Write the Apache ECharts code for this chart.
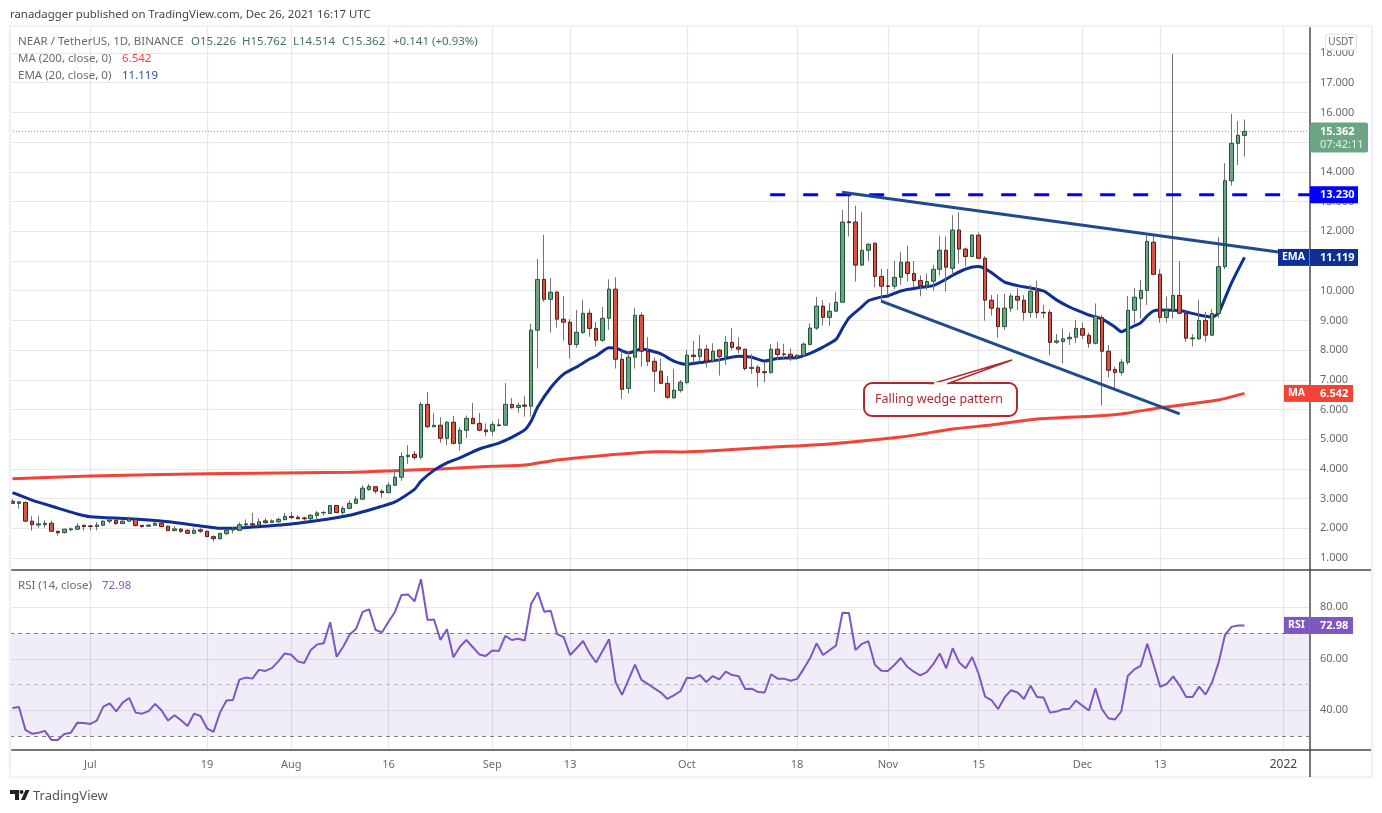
<!DOCTYPE html>
<html>
<head>
<meta charset="utf-8">
<title>NEAR / TetherUS</title>
<script src="https://cdn.jsdelivr.net/npm/echarts@6/dist/echarts.min.js"></script>
<style>
  html, body { margin: 0; padding: 0; background: #fff; }
  #chart { width: 1382px; height: 813px; }
</style>
</head>
<body>
<div id="chart"></div>
<script>
// x axis is days counted from 2021-07-01
const FIRST_DAY = -12
const DAY_MIN = -12.38
const DAY_MAX = 188.1

const tickDays = [0, 18, 31, 46, 62, 74, 92, 109, 123, 137, 153, 165, 184]
const tickLabels = ["Jul", "19", "Aug", "16", "Sep", "13", "Oct", "18", "Nov", "15", "Dec", "13", "2022"]
const priceTicks = [1, 2, 3, 4, 5, 6, 7, 8, 9, 10, 11, 12, 13, 14, 15, 16, 17, 18]
const rsiTicks = [40, 60, 80]

// daily rows: open, close, low, high
const candles = [
  [2.91, 2.84, 2.82, 2.98], [2.84, 2.89, 2.66, 2.92], [2.87, 2.24, 2.21, 2.90], [2.24, 2.12, 1.92, 2.41],
  [2.11, 2.15, 2.02, 2.41], [2.12, 2.17, 2.02, 2.27], [2.17, 1.90, 1.89, 2.25], [1.90, 1.85, 1.75, 1.92],
  [1.86, 1.97, 1.82, 1.98], [1.95, 1.98, 1.91, 2.03], [1.97, 2.07, 1.94, 2.17], [2.10, 2.06, 1.92, 2.12],
  [2.08, 2.06, 1.92, 2.11], [2.06, 2.11, 1.93, 2.21], [2.10, 2.24, 2.09, 2.27], [2.24, 2.28, 2.17, 2.35],
  [2.27, 2.16, 2.11, 2.29], [2.16, 2.24, 2.15, 2.27], [2.24, 2.31, 2.22, 2.40], [2.30, 2.09, 2.07, 2.32],
  [2.10, 2.06, 2.02, 2.11], [2.07, 2.11, 2.04, 2.13], [2.10, 2.17, 2.08, 2.22], [2.17, 2.06, 2.03, 2.19],
  [2.07, 1.92, 1.91, 2.09], [1.92, 1.98, 1.90, 2.08], [1.97, 1.90, 1.85, 2.01], [1.93, 1.83, 1.82, 1.97],
  [1.83, 1.93, 1.82, 2.03], [1.95, 1.90, 1.85, 2.00], [1.90, 1.72, 1.71, 1.92], [1.72, 1.65, 1.55, 1.76],
  [1.65, 1.83, 1.62, 1.85], [1.82, 1.93, 1.77, 1.98], [1.94, 1.98, 1.83, 2.04], [1.93, 2.12, 1.92, 2.20],
  [2.11, 2.15, 2.06, 2.30], [2.15, 2.11, 2.09, 2.52], [2.11, 2.22, 2.08, 2.34], [2.25, 2.19, 2.16, 2.34],
  [2.20, 2.25, 2.18, 2.30], [2.22, 2.30, 2.18, 2.37], [2.29, 2.40, 2.28, 2.52], [2.40, 2.36, 2.32, 2.55],
  [2.37, 2.32, 2.31, 2.44], [2.35, 2.32, 2.22, 2.39], [2.32, 2.44, 2.28, 2.47], [2.43, 2.52, 2.32, 2.58],
  [2.52, 2.53, 2.43, 2.59], [2.50, 2.77, 2.49, 2.77], [2.77, 2.53, 2.52, 2.77], [2.53, 2.67, 2.44, 2.75],
  [2.67, 2.84, 2.65, 2.95], [2.84, 2.98, 2.82, 3.07], [2.98, 3.35, 2.95, 3.45], [3.30, 3.41, 3.27, 3.49],
  [3.40, 3.25, 3.16, 3.42], [3.25, 3.20, 3.03, 3.31], [3.20, 3.45, 3.19, 3.55], [3.45, 3.72, 3.42, 3.99],
  [3.72, 4.42, 3.60, 4.56], [4.41, 4.46, 4.17, 4.80], [4.49, 4.38, 4.31, 4.60], [4.39, 6.17, 4.32, 6.25],
  [6.17, 5.42, 5.37, 6.59], [5.42, 5.47, 5.40, 5.87], [5.47, 5.03, 4.88, 5.74], [5.03, 5.57, 4.80, 5.61],
  [5.57, 4.86, 4.82, 5.78], [4.86, 5.30, 4.61, 5.40], [5.30, 5.70, 5.04, 5.80], [5.70, 5.52, 5.51, 6.22],
  [5.53, 5.30, 5.27, 5.88], [5.31, 5.25, 5.11, 5.53], [5.27, 5.50, 5.11, 5.60], [5.48, 5.46, 5.43, 5.68],
  [5.47, 6.17, 5.46, 6.89], [6.17, 6.06, 6.03, 6.39], [6.07, 6.14, 5.89, 6.24], [6.15, 6.11, 5.76, 6.45],
  [6.11, 8.67, 5.76, 8.88], [8.67, 10.38, 7.38, 11.07], [10.38, 9.71, 9.63, 11.88], [9.71, 9.95, 8.59, 10.43],
  [9.95, 9.04, 8.76, 9.99], [9.04, 8.94, 8.32, 9.82], [8.94, 8.19, 7.71, 9.04], [8.19, 8.60, 8.08, 9.35],
  [8.59, 9.24, 8.54, 9.69], [9.24, 8.73, 8.45, 9.37], [8.73, 8.33, 8.12, 8.95], [8.33, 9.07, 8.28, 9.45],
  [9.07, 10.05, 8.68, 10.38], [10.05, 7.69, 7.38, 10.45], [7.69, 6.68, 6.36, 7.98], [6.71, 7.76, 6.54, 7.97],
  [7.76, 9.17, 7.38, 9.42], [9.17, 7.96, 7.44, 9.27], [7.96, 7.62, 7.46, 8.44], [7.62, 7.29, 6.60, 7.75],
  [7.29, 6.88, 6.86, 7.72], [6.88, 6.41, 6.36, 7.13], [6.39, 6.65, 6.36, 7.37], [6.64, 6.92, 6.57, 6.99],
  [6.91, 7.83, 6.85, 8.01], [7.83, 7.78, 7.58, 8.31], [7.78, 8.03, 7.61, 8.51], [8.03, 7.63, 7.41, 8.18],
  [7.63, 7.96, 7.58, 8.23], [8.00, 7.78, 7.14, 8.03], [7.78, 8.26, 7.50, 8.48], [8.26, 8.09, 8.01, 8.74],
  [8.10, 8.03, 7.89, 8.43], [8.03, 7.38, 7.31, 8.03], [7.38, 7.42, 7.20, 7.87], [7.42, 7.25, 6.77, 7.50],
  [7.27, 7.24, 6.91, 7.61], [7.24, 8.03, 7.21, 8.21], [8.03, 7.85, 7.66, 8.28], [7.87, 7.85, 7.67, 8.21],
  [7.86, 7.78, 7.63, 8.06], [7.77, 7.83, 7.66, 7.84], [7.82, 8.20, 7.78, 8.26], [8.19, 8.74, 8.16, 8.90],
  [8.74, 9.48, 8.68, 9.79], [9.48, 9.10, 8.83, 9.68], [9.10, 9.31, 8.81, 9.58], [9.31, 9.61, 9.30, 9.95],
  [9.61, 12.31, 9.59, 12.72], [12.32, 12.29, 11.82, 13.28], [12.31, 10.86, 10.31, 12.86], [10.86, 11.36, 10.83, 12.65],
  [11.36, 11.56, 11.00, 11.60], [11.60, 10.48, 10.11, 11.60], [10.48, 10.15, 9.66, 10.73], [10.16, 10.14, 9.84, 10.73],
  [10.15, 10.45, 10.05, 11.00], [10.45, 10.96, 10.20, 11.31], [10.96, 10.58, 10.31, 11.51], [10.58, 10.34, 10.12, 11.00],
  [10.34, 10.17, 9.81, 10.51], [10.17, 10.31, 10.03, 10.57], [10.32, 10.72, 10.00, 10.87], [10.72, 11.36, 10.51, 11.85],
  [11.36, 10.79, 9.97, 11.82], [10.75, 12.04, 10.53, 12.54], [12.04, 11.40, 10.92, 12.64], [11.40, 11.15, 10.83, 11.45],
  [11.15, 11.87, 11.13, 11.90], [11.87, 11.09, 11.06, 11.96], [11.09, 9.68, 8.99, 11.16], [9.68, 9.41, 9.16, 9.85],
  [9.41, 8.79, 8.42, 9.88], [8.79, 9.41, 8.68, 9.89], [9.41, 9.82, 9.29, 9.91], [9.81, 9.68, 9.35, 10.08],
  [9.68, 9.27, 8.99, 9.85], [9.27, 9.98, 9.09, 10.19], [9.98, 9.26, 9.07, 10.34], [9.27, 9.25, 9.07, 9.52],
  [9.27, 8.26, 7.83, 9.37], [8.26, 8.31, 8.21, 8.54], [8.29, 8.38, 7.55, 8.73], [8.38, 8.43, 8.17, 8.59],
  [8.43, 8.73, 8.23, 9.01], [8.72, 8.50, 8.36, 8.92], [8.50, 8.23, 8.08, 8.59], [8.23, 9.14, 8.19, 9.57],
  [9.09, 7.96, 6.13, 9.18], [7.96, 7.32, 7.08, 8.17], [7.35, 7.25, 6.66, 7.44], [7.25, 7.59, 7.14, 7.70],
  [7.59, 9.34, 7.51, 9.82], [9.34, 9.78, 8.90, 10.09], [9.73, 10.01, 9.07, 10.36], [10.01, 11.66, 9.52, 11.85],
  [11.63, 10.55, 10.53, 11.88], [10.55, 9.10, 8.92, 10.72], [9.10, 9.34, 8.92, 9.80], [9.34, 9.84, 9.06, 17.96],
  [9.84, 9.24, 9.22, 11.00], [9.24, 8.40, 8.28, 9.33], [8.38, 8.41, 8.12, 8.54], [8.38, 9.00, 8.34, 9.69],
  [9.00, 8.50, 8.28, 9.29], [8.50, 9.23, 8.49, 9.38], [9.23, 10.81, 9.09, 11.80], [10.81, 13.70, 10.72, 14.29],
  [13.70, 14.96, 13.54, 15.95], [14.96, 15.23, 14.23, 15.71], [15.226, 15.362, 14.514, 15.762],
]

// read every few days, the line joins the readings
const emaDays = [-12, -11, -9, -5, -2, 0, 6, 12, 17, 20, 22, 27, 32, 40, 44, 47, 50, 51, 53, 55, 57, 60, 63, 65, 67, 68, 69, 71, 73, 75, 77, 78, 80, 81, 83, 85, 86, 88, 90, 92, 94, 97, 100, 102, 104, 106, 109, 111, 113, 115, 116, 117, 119, 120, 122, 123, 125, 128, 130, 132, 133, 135, 137, 138, 139, 141, 143, 145, 147, 149, 151, 153, 154, 156, 158, 159, 160, 161, 162, 163, 164, 165, 168, 171, 173, 174, 175, 176, 177, 178]
const emaValues = [3.2, 3.12, 2.95, 2.68, 2.48, 2.39, 2.32, 2.22, 2.08, 2.0, 2.0, 2.07, 2.17, 2.44, 2.68, 2.89, 3.31, 3.59, 3.95, 4.2, 4.37, 4.67, 4.87, 5.06, 5.31, 5.61, 6.08, 6.73, 7.19, 7.43, 7.7, 7.8, 8.08, 8.07, 7.9, 8.04, 8.0, 7.87, 7.63, 7.52, 7.58, 7.67, 7.79, 7.76, 7.63, 7.72, 7.75, 7.89, 8.1, 8.36, 8.73, 9.08, 9.46, 9.66, 9.79, 9.82, 9.99, 10.11, 10.17, 10.39, 10.52, 10.73, 10.81, 10.74, 10.6, 10.29, 10.17, 10.09, 9.99, 9.69, 9.45, 9.27, 9.18, 9.05, 8.78, 8.62, 8.71, 8.81, 8.92, 9.15, 9.32, 9.35, 9.33, 9.18, 9.11, 9.25, 9.75, 10.26, 10.7, 11.119]

const maDays = [-12, 0, 18, 40, 47, 54, 62, 67, 72, 80, 87, 91, 104, 114, 125, 133, 139, 146, 155, 159, 165, 174, 178]
const maValues = [3.67, 3.76, 3.84, 3.885, 3.94, 4.0, 4.09, 4.13, 4.3, 4.47, 4.58, 4.57, 4.72, 4.84, 5.07, 5.34, 5.48, 5.68, 5.78, 5.85, 6.06, 6.32, 6.542]

const rsiValues = [
  40.9, 41.3, 32.4, 30.9, 31.3, 32.0, 28.5, 28.5, 30.8, 31.3, 35.2, 35.1, 34.7, 36.0, 41.4, 42.7, 39.6, 43.0, 44.8, 39.1,
  38.7, 39.7, 42.5, 39.9, 36.0, 38.1, 36.1, 33.9, 38.7, 37.8, 33.0, 31.6, 39.1, 43.8, 44.0, 51.9, 52.7, 52.3, 55.7, 55.3,
  56.4, 59.0, 62.1, 61.6, 59.0, 58.4, 63.4, 65.6, 66.0, 74.2, 60.8, 64.7, 69.4, 71.7, 78.2, 79.2, 71.2, 70.3, 74.4, 78.3,
  84.8, 85.0, 82.3, 90.9, 75.1, 75.3, 67.3, 71.5, 60.6, 64.7, 67.3, 64.5, 61.7, 61.1, 63.2, 63.0, 68.9, 67.3, 67.8, 67.1,
  81.4, 85.8, 78.3, 78.7, 69.6, 68.4, 61.5, 64.1, 66.9, 62.1, 58.6, 63.0, 67.6, 51.0, 46.0, 51.8, 57.7, 51.8, 50.2, 48.5,
  46.9, 44.4, 45.8, 47.4, 52.6, 52.4, 53.7, 51.0, 53.3, 52.0, 55.0, 53.7, 53.2, 48.3, 48.4, 47.1, 46.9, 54.0, 52.3, 52.3,
  51.5, 52.2, 56.0, 60.2, 66.0, 61.5, 63.3, 65.1, 77.9, 77.8, 63.4, 65.8, 66.8, 57.7, 55.4, 55.3, 57.6, 60.3, 56.9, 55.0,
  53.6, 54.8, 57.9, 62.1, 56.3, 64.1, 58.6, 56.3, 60.7, 54.1, 45.3, 43.9, 40.5, 45.0, 47.8, 46.9, 44.4, 49.6, 45.2, 45.0,
  39.1, 39.5, 40.4, 40.6, 43.8, 41.8, 39.9, 48.5, 40.5, 36.9, 36.4, 39.6, 53.3, 55.9, 57.3, 65.8, 57.6, 49.1, 50.2, 53.2,
  49.6, 45.2, 45.2, 49.2, 46.1, 50.9, 58.5, 69.3, 72.4, 72.9, 72.98,
]

const RESISTANCE = 13.23
const LAST_CLOSE = 15.362
const wedgeTop = [[115.95, 13.31], [183.2, 11.3]]
const wedgeBottom = [[121.96, 9.65], [168.0, 5.85]]

const UP = "#6ba583"
const DOWN = "#d75442"
const GRID = "#e7e7e7"
const AXIS = "#4a4a4a"
const MUTED = "#6a6a6a"
const EMA = "#0e2f94"
const MA = "#f44336"
const RSI = "#7e57c2"
const TREND = "#1f4a8c"
const CALLOUT = "#ad2b2e"
const FONT = '"Noto Sans", sans-serif'

const zipDays = (days, values) => days.map((d, i) => [d, values[i]])
const candleRow = (row, i) => [i + FIRST_DAY, row[0], row[1], row[2], row[3]]
const bodyRow = (row, i) => [i + FIRST_DAY, row[0], row[1], Math.min(row[0], row[1]), Math.max(row[0], row[1])]

function xAxisBase(gridIndex, showLabels) {
  return {
    type: "value",
    gridIndex,
    min: DAY_MIN,
    max: DAY_MAX,
    axisLine: {show: true, onZero: false, lineStyle: {color: AXIS, width: 1.5}},
    axisTick: {show: false, customValues: tickDays},
    splitLine: {show: true, lineStyle: {color: GRID, width: 1.2}},
    axisLabel: {
      show: showLabels,
      customValues: tickDays,
      color: MUTED,
      fontFamily: FONT,
      fontSize: 11,
      margin: 9,
      formatter(value) {
        const label = tickLabels[tickDays.indexOf(value)]
        return label === "2022" ? `{year|${label}}` : label
      },
      rich: {year: {fontFamily: FONT, fontSize: 12, color: "#444"}},
    },
  }
}

function yAxisBase(gridIndex, min, max, ticks, digits) {
  return {
    type: "value",
    gridIndex,
    position: "right",
    min,
    max,
    axisLine: {show: true, onZero: false, lineStyle: {color: AXIS, width: 1.5}},
    axisTick: {show: false, customValues: ticks},
    splitLine: {show: true, lineStyle: {color: GRID, width: 1.2}},
    axisLabel: {
      customValues: ticks,
      color: MUTED,
      fontFamily: FONT,
      fontSize: 11,
      margin: 10,
      formatter: value => value.toFixed(digits),
    },
  }
}

const dayLine = (name, data, color, width, z, extra) => ({
  name,
  type: "line",
  data,
  showSymbol: false,
  symbol: "none",
  silent: true,
  z,
  lineStyle: {color, width, ...extra},
})

const chart = echarts.init(document.getElementById("chart"), null, {renderer: "canvas"})

chart.setOption({
  animation: false,
  backgroundColor: "#fff",
  grid: [
    {left: 10, right: 72, top: 26, height: 544},
    {left: 10, right: 72, top: 570, height: 180},
  ],
  xAxis: [xAxisBase(0, false), xAxisBase(1, true)],
  yAxis: [
    yAxisBase(0, 0.596, 18.91, priceTicks, 3),
    yAxisBase(1, 24.58, 94.49, rsiTicks, 2),
  ],
  series: [
    dayLine("Last", [[DAY_MIN, LAST_CLOSE], [DAY_MAX, LAST_CLOSE]], UP, 1, 3, {type: [1, 2]}),
    {...dayLine("MA", zipDays(maDays, maValues), MA, 3, 4), smooth: 0.2},
    {...dayLine("EMA", zipDays(emaDays, emaValues), EMA, 3, 4), smooth: 0.2},
    {
      name: "Wicks",
      type: "candlestick",
      data: candles.map(candleRow),
      encode: {x: 0, y: [1, 2, 3, 4]},
      barWidth: 1,
      silent: true,
      z: 5,
      itemStyle: {color: "#737375", color0: "#737375", borderColor: "#737375", borderColor0: "#737375", borderWidth: 1},
    },
    {
      name: "NEAR / TetherUS",
      type: "candlestick",
      data: candles.map(bodyRow),
      encode: {x: 0, y: [1, 2, 3, 4]},
      barWidth: 4,
      silent: true,
      z: 6,
      itemStyle: {color: UP, color0: DOWN, borderColor: "#225437", borderColor0: "#5b1a13", borderWidth: 1},
    },
    dayLine("Resistance", [[104.85, RESISTANCE], [DAY_MAX, RESISTANCE]], "#0000ff", 3, 7, {type: [15, 18]}),
    dayLine("Wedge top", wedgeTop, TREND, 3, 7),
    dayLine("Wedge bottom", wedgeBottom, TREND, 3, 7),
    {
      ...dayLine("RSI", rsiValues.map((v, i) => [i + FIRST_DAY, v]), RSI, 2, 5),
      xAxisIndex: 1,
      yAxisIndex: 1,
      markArea: {
        silent: true,
        itemStyle: {color: "rgba(126,87,194,0.115)"},
        data: [[{yAxis: 30}, {yAxis: 70}]],
      },
      markLine: {
        silent: true,
        symbol: "none",
        label: {show: false},
        data: [
          {yAxis: 70, lineStyle: {color: "#787b86", type: [4, 4], width: 1}},
          {yAxis: 50, lineStyle: {color: "#b9b4c6", type: [4, 4], width: 1}},
          {yAxis: 30, lineStyle: {color: "#787b86", type: [4, 4], width: 1}},
        ],
      },
    },
  ],
})

// chrome and axis tags, placed from the axis scales where they hang on a value
const text = (str, x, y, fill, size, weight, align) => ({
  type: "text",
  z: 30,
  style: {
    text: str,
    x,
    y,
    fill,
    font: `${weight || "normal"} ${size || 11}px ${FONT}`,
    align: align || "left",
    verticalAlign: "middle",
  },
})

const box = (x, y, width, height, fill, r) => ({
  type: "rect",
  z: 29,
  shape: {x, y, width, height, r: r || 0},
  style: {fill},
})

function axisTag(y, value, fill, name, nameX, valueW) {
  const items = [box(1310, y - 8.5, valueW, 17, fill), text(value, 1320, y, "#fff", 11, "bold")]
  if (name) {
    items.push(box(nameX, y - 8.5, 1309 - nameX, 17, fill))
    items.push(text(name, (nameX + 1309) / 2, y, "#fff", 10.5, "bold", "center"))
  }
  return items
}

const priceY = v => chart.convertToPixel({yAxisIndex: 0}, v)
const rsiY = v => chart.convertToPixel({yAxisIndex: 1}, v)
const lastY = priceY(LAST_CLOSE)

chart.setOption({
  graphic: [
    {type: "rect", z: 20, shape: {x: 10, y: 26, width: 1362, height: 751}, style: {fill: "none", stroke: "#f0f1f6", lineWidth: 2.5}},
    {type: "line", z: 21, shape: {x1: 1310, y1: 750, x2: 1310, y2: 777}, style: {stroke: AXIS, lineWidth: 1.5}},
    {type: "line", z: 21, shape: {x1: 1310, y1: 750, x2: 1371, y2: 750}, style: {stroke: AXIS, lineWidth: 1.5}},
    {type: "line", z: 21, shape: {x1: 1310, y1: 570, x2: 1371, y2: 570}, style: {stroke: AXIS, lineWidth: 1.5}},

    text("ranadagger published on TradingView.com, Dec 26, 2021 16:17 UTC", 10, 15, "#444", 11.4),
    text("NEAR / TetherUS, 1D, BINANCE", 18, 42, MUTED, 11.5),
    text("O15.226", 191, 42, "#3f7556", 11.5),
    text("H15.762", 242, 42, "#3f7556", 11.5),
    text("L14.514", 293, 42, "#3f7556", 11.5),
    text("C15.362", 342, 42, "#3f7556", 11.5),
    text("+0.141 (+0.93%)", 393, 42, "#3f7556", 11.5),
    text("MA (200, close, 0)", 18, 59, MUTED, 11.5),
    text("6.542", 122, 59, "#f44336", 11.5),
    text("EMA (20, close, 0)", 18, 76, MUTED, 11.5),
    text("11.119", 122, 76, "#2a4bb0", 11.5),
    text("RSI (14, close)", 18, 586, MUTED, 11.5),
    text("72.98", 102, 586, RSI, 11.5),

    {type: "rect", z: 29, shape: {x: 1325.5, y: 34, width: 31, height: 16, r: 3}, style: {fill: "#fff", stroke: "#dcdfe6", lineWidth: 1}},
    text("USDT", 1341, 42, MUTED, 10, "normal", "center"),

    box(1310, lastY - 9, 58, 30, UP, 2),
    text("15.362", 1320, lastY + 0.5, "#fff", 11, "bold"),
    text("07:42:11", 1320, lastY + 13.5, "#e6f0ea", 11),
    ...axisTag(priceY(RESISTANCE), "13.230", "#0000ff", null, 0, 48),
    ...axisTag(priceY(11.119), "11.119", EMA, "EMA", 1278, 48),
    ...axisTag(priceY(6.542), "6.542", MA, "MA", 1284, 43),
    ...axisTag(rsiY(72.98), "72.98", RSI, "RSI", 1284, 43),

    {type: "polygon", z: 26, shape: {points: [[933, 383.5], [1012, 360], [948, 383.5]]}, style: {fill: "#fff", stroke: CALLOUT, lineWidth: 1.5}},
    {type: "rect", z: 25, shape: {x: 864, y: 383, width: 153, height: 33, r: 8}, style: {fill: "#fff", stroke: CALLOUT, lineWidth: 2}},
    {type: "line", z: 27, shape: {x1: 934, y1: 383.5, x2: 947, y2: 383.5}, style: {stroke: "#fff", lineWidth: 2.5}},
    text("Falling wedge pattern", 875, 399, CALLOUT, 12.5),

    {type: "polygon", z: 29, shape: {points: [[10, 790], [19, 790], [19, 800], [15, 800], [15, 794], [10, 794]]}, style: {fill: "#222"}},
    {type: "circle", z: 29, shape: {cx: 21.5, cy: 792, r: 2}, style: {fill: "#222"}},
    {type: "polygon", z: 29, shape: {points: [[25.5, 790], [29.5, 790], [25, 800], [21, 800]]}, style: {fill: "#222"}},
    text("TradingView", 33, 796, "#555", 13),
  ],
})
</script>
</body>
</html>
